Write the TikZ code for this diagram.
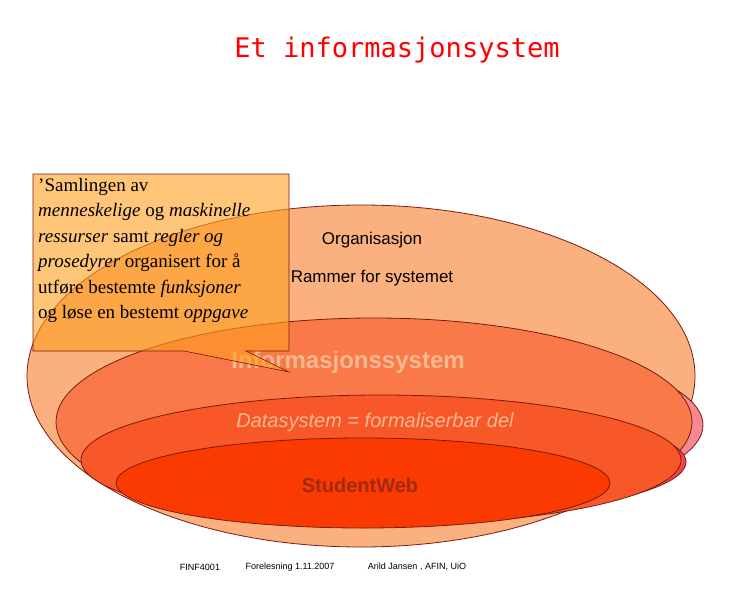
\documentclass[tikz,border=0pt]{standalone}
\usepackage{fontspec}
\setmainfont{Liberation Serif}
\setsansfont{Liberation Sans}
\newfontfamily\titlefont{DejaVu Sans Mono}
\usetikzlibrary{shapes.geometric}
\definecolor{bord}{HTML}{7A1A10}
\definecolor{c1}{HTML}{FBB080}
\definecolor{c2}{HTML}{F97A48}
\definecolor{c3}{HTML}{F85828}
\definecolor{c4}{HTML}{FA3A00}
\definecolor{pk}{HTML}{F88890}
\definecolor{pk2}{HTML}{F84050}
\definecolor{callf}{HTML}{FFA020}
\definecolor{peach}{HTML}{F8B890}
\definecolor{sw}{HTML}{A02A10}
\tikzset{ell/.style={draw=bord,line width=0.8pt},
lbl/.style={font=\sffamily},
foot/.style={font=\sffamily\fontsize{9}{10}\selectfont}}
\begin{document}
\begin{tikzpicture}[x=1pt,y=-1pt]
\useasboundingbox (0,0) rectangle (750,600);
\node[text=red,font=\titlefont\fontsize{27}{30}\selectfont] (title) at (397,50) {Et informasjonsystem};
\fill[ell,fill=c1] (361,376) ellipse [x radius=334,y radius=171];
\fill[ell,fill=pk] (384,425) ellipse [x radius=319,y radius=88];
\fill[ell,fill=c2] (374,422) ellipse [x radius=318,y radius=104];
\fill[ell,fill=pk2] (384,462) ellipse [x radius=302,y radius=58];
\fill[ell,fill=c3] (381,460) ellipse [x radius=300,y radius=65];
\fill[ell,fill=c4] (363,483) ellipse [x radius=247,y radius=45];
\node[lbl,font=\sffamily\fontsize{17}{20}\selectfont] (org) at (372,240) {Organisasjon};
\node[lbl,font=\sffamily\fontsize{17}{20}\selectfont] (ram) at (372,278) {Rammer for systemet};
\node[text=peach,font=\sffamily\bfseries\fontsize{24}{28}\selectfont] (is) at (348,362) {Informasjonssystem};
\node[text=peach,font=\sffamily\itshape\fontsize{20}{24}\selectfont] (ds) at (375,422) {Datasystem = formaliserbar del};
\node[text=sw,font=\sffamily\bfseries\fontsize{20}{24}\selectfont] (swn) at (360,485) {StudentWeb};
\fill[draw=bord,line width=0.6pt,fill=callf,fill opacity=0.6] (33,174) -- (289,174) -- (289,351) -- (246,351) -- (289,372) -- (184,351) -- (33,351) -- cycle;
\node[anchor=north west,align=left,font=\fontsize{19}{25.5}\selectfont,inner sep=0pt] (call) at (38,178)
{'Samlingen av\\ \textit{menneskelige} og \textit{maskinelle}\\ \textit{ressurser} samt \textit{regler og}\\ \textit{prosedyrer} organisert for å\\ utføre bestemte \textit{funksjoner}\\ og løse en bestemt \textit{oppgave}};
\node[foot] (f1) at (200,567) {FINF4001};
\node[foot] (f2) at (290,567) {Forelesning 1.11.2007};
\node[foot] (f3) at (417,567) {Arild Jansen , AFIN, UiO};
\end{tikzpicture}
\end{document}
